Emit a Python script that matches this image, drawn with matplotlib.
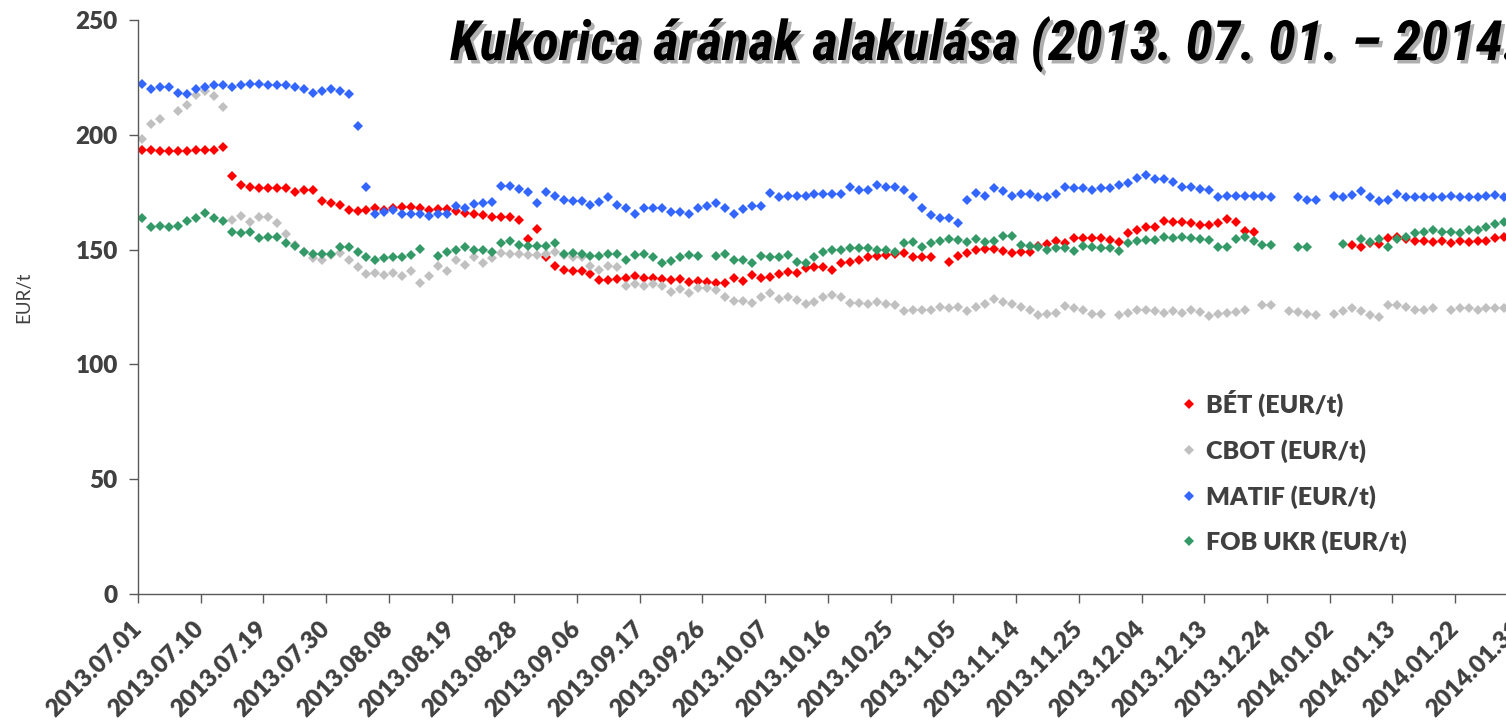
import numpy as np
import matplotlib
matplotlib.use("Agg")
import matplotlib.pyplot as plt
from matplotlib import font_manager
from matplotlib.lines import Line2D
import matplotlib.patheffects as pe

nan = np.nan

# weekday categories 2013.07.01 - 2014.01.31, one label every 7th day
n_cat = 155
tick_labels = ['2013.07.01', '2013.07.10', '2013.07.19', '2013.07.30', '2013.08.08',
               '2013.08.19', '2013.08.28', '2013.09.06', '2013.09.17', '2013.09.26',
               '2013.10.07', '2013.10.16', '2013.10.25', '2013.11.05', '2013.11.14',
               '2013.11.25', '2013.12.04', '2013.12.13', '2013.12.24', '2014.01.02',
               '2014.01.13', '2014.01.22', '2014.01.31']

bet = [193.3, 193.5, 193.1, 193.1, 193.1, 193.1, 193.3, 193.5, 193.5, 194.5,
       182.1, 178.1, 177.2, 176.7, 176.7, 176.7, 176.7, 175.2, 176.0, 176.0,
       171.3, 170.5, 169.5, 167.3, 166.6, 167.4, 168.0, 167.2, 168.0, 168.5,
       168.5, 168.0, 167.2, 167.5, 167.5, 167.0, 166.0, 165.5, 165.1, 164.4,
       164.1, 164.1, 163.0, 154.5, 158.9, 146.9, 142.8, 141.1, 140.8, 140.8,
       139.3, 136.7, 136.7, 137.0, 137.8, 138.4, 137.8, 137.8, 137.0, 136.7,
       137.0, 136.0, 136.4, 136.0, 135.6, 135.6, 137.5, 136.4, 139.0, 137.8,
       138.1, 139.3, 140.3, 139.9, 141.8, 142.5, 142.5, 141.3, 144.0, 144.7,
       145.4, 146.6, 147.0, 147.6, 148.3, 148.6, 146.9, 146.9, 146.6, nan,
       144.7, 147.2, 148.6, 149.8, 150.1, 150.1, 149.5, 148.6, 149.1, 149.1,
       151.6, 152.4, 153.7, 152.7, 154.9, 154.9, 154.9, 154.9, 154.2, 153.5,
       157.4, 158.6, 160.0, 159.7, 162.6, 162.2, 162.2, 161.4, 160.7, 160.7,
       161.4, 163.2, 162.2, 158.3, 157.8, nan, nan, nan, nan, nan,
       nan, nan, nan, nan, nan, 152.0, 151.0, 153.0, 152.4, 154.9,
       155.3, 154.5, 153.9, 153.9, 153.5, 153.9, 153.0, 153.9, 153.5, 153.9,
       153.9, 154.9, 155.3]

cbot = [198.0, 204.7, 206.7, nan, 210.5, 213.0, 217.3, 219.2, 216.9, 212.3,
        162.9, 164.6, 162.2, 164.3, 164.3, 161.7, 156.8, 152.0, 149.1, 146.2,
        145.5, 147.6, 148.7, 145.5, 142.6, 139.5, 139.7, 139.0, 140.0, 138.3,
        140.5, 135.6, 138.3, 142.8, 140.5, 145.4, 143.3, 146.9, 144.0, 146.2,
        148.5, 148.3, 148.3, 147.6, 147.6, 148.0, 149.0, 147.5, 146.9, 146.9,
        142.8, 141.1, 142.9, 142.6, 134.1, 135.0, 134.1, 135.0, 134.1, 131.6,
        132.7, 130.9, 133.1, 133.1, 132.4, 129.5, 127.7, 127.7, 126.8, 129.5,
        130.9, 128.7, 129.5, 127.9, 126.4, 127.2, 129.5, 130.2, 129.5, 126.8,
        126.8, 126.3, 127.2, 126.5, 125.8, 123.3, 123.9, 123.9, 123.9, 124.8,
        124.4, 124.8, 123.3, 124.8, 126.3, 128.7, 127.2, 126.3, 124.8, 123.9,
        121.4, 122.1, 122.4, 125.3, 124.4, 123.9, 122.1, 121.9, nan, 121.4,
        122.4, 123.9, 123.6, 123.3, 122.4, 123.3, 122.4, 123.9, 122.7, 120.9,
        121.9, 122.4, 122.7, 123.9, nan, 125.8, 125.8, nan, 123.3, 122.7,
        122.1, 121.4, nan, 122.1, 123.3, 124.4, 123.3, 121.4, 120.7, 125.8,
        125.8, 124.8, 123.9, 123.9, 124.4, nan, 123.9, 124.4, 124.4, 123.9,
        124.4, 124.6, 124.4]

matif = [222.1, 219.8, 221.0, 221.0, 218.3, 217.8, 220.1, 221.0, 221.7, 221.7,
         221.0, 221.7, 222.1, 222.1, 221.7, 221.7, 221.7, 221.0, 219.8, 218.3,
         219.2, 219.8, 219.2, 217.8, 203.8, 177.4, 165.5, 166.5, 167.3, 165.5,
         165.5, 165.5, 164.7, 165.5, 165.5, 169.0, 168.0, 169.8, 170.1, 170.8,
         177.7, 177.7, 176.2, 175.2, 170.4, 175.2, 173.3, 171.8, 171.3, 171.3,
         169.4, 170.6, 172.8, 169.4, 168.0, 165.5, 168.0, 168.0, 168.0, 166.5,
         166.5, 165.5, 168.0, 169.0, 170.1, 168.0, 165.5, 167.5, 169.0, 169.0,
         174.5, 172.8, 173.3, 173.3, 173.3, 174.2, 174.2, 174.2, 174.2, 177.4,
         176.0, 176.0, 178.1, 177.4, 177.4, 176.0, 172.8, 168.0, 165.1, 163.6,
         163.6, 161.8, 171.8, 174.5, 173.3, 176.7, 175.7, 173.3, 174.2, 174.2,
         172.8, 172.8, 174.2, 177.4, 176.7, 176.7, 176.0, 176.7, 176.7, 178.1,
         179.1, 181.4, 182.5, 180.6, 180.6, 179.6, 177.4, 177.4, 176.2, 176.0,
         172.8, 173.3, 173.3, 173.3, 173.3, 173.3, 172.8, nan, nan, 172.8,
         171.8, 171.8, nan, 173.3, 172.8, 173.8, 175.7, 172.8, 171.3, 171.8,
         174.2, 172.8, 172.8, 172.8, 172.8, 172.8, 173.3, 172.8, 172.8, 172.8,
         173.3, 173.8, 172.8]

fob = [163.6, 159.7, 160.3, 159.7, 160.3, 162.6, 163.6, 166.1, 163.6, 162.6,
       157.8, 157.1, 157.8, 154.9, 155.6, 155.6, 152.7, 151.6, 149.1, 148.1,
       148.1, 148.1, 151.3, 151.3, 149.1, 146.8, 145.4, 146.2, 146.6, 146.9,
       147.6, 150.1, nan, 147.2, 149.1, 149.8, 151.2, 149.8, 149.8, 149.1,
       152.7, 153.9, 152.0, 151.6, 151.6, 151.6, 152.7, 148.3, 148.6, 148.0,
       147.2, 147.2, 148.3, 148.0, 145.4, 147.6, 148.3, 146.9, 144.0, 145.1,
       146.9, 147.6, 147.2, nan, 147.2, 148.3, 145.4, 145.4, 144.0, 147.2,
       146.9, 146.9, 147.6, 144.7, 144.0, 146.6, 148.9, 149.8, 149.8, 150.5,
       150.5, 150.5, 149.8, 149.8, 149.1, 153.0, 153.5, 151.2, 152.7, 153.9,
       154.5, 154.2, 153.5, 154.5, 153.5, 153.9, 155.9, 155.9, 152.0, 151.6,
       151.0, 149.8, 150.5, 150.5, 149.5, 151.6, 151.0, 150.5, 150.5, 149.5,
       152.7, 153.9, 154.2, 154.2, 155.3, 154.9, 155.3, 154.9, 154.5, 154.2,
       151.2, 151.2, 154.5, 155.6, 153.9, 152.0, 152.0, nan, nan, 151.2,
       151.2, nan, nan, nan, 152.4, nan, 154.5, 153.5, 154.5, 151.2,
       154.5, 155.3, 157.1, 157.8, 158.6, 157.8, 157.8, 157.1, 158.6, 158.6,
       159.7, 161.1, 162.2]

series = [("BÉT (EUR/t)", bet, "#ff0000"),
          ("CBOT (EUR/t)", cbot, "#c0c0c0"),
          ("MATIF (EUR/t)", matif, "#3366ff"),
          ("FOB UKR (EUR/t)", fob, "#339966")]

names = {f.name for f in font_manager.fontManager.ttflist}
base_font = 'Lato' if 'Lato' in names else 'DejaVu Sans'
title_font = next((n for n in ['Liberation Sans Narrow', 'Roboto Condensed', 'Lato']
                   if n in names), 'DejaVu Sans')
plt.rcParams['font.family'] = [base_font, 'DejaVu Sans']
txt = '#404040'

W, H = 1506, 722
fig = plt.figure(figsize=(W / 100, H / 100), dpi=100)
ax = fig.add_axes([138 / W, 128 / H, n_cat * 8.96 / W, 574 / H])

for name, vals, col in series:
    ax.plot(np.arange(len(vals)), vals, ls='none', marker='D', ms=5.2,
            mew=0, color=col, label=name)

ax.set_xlim(-0.5, n_cat - 0.5)
ax.set_ylim(0, 250)
ax.set_yticks(np.arange(0, 251, 50))
ax.set_xticks(np.arange(0, n_cat, 7) - 0.5)
ax.set_xticklabels(tick_labels, rotation=45, ha='right', va='center',
                   rotation_mode='anchor')
for s in ['top', 'right']:
    ax.spines[s].set_visible(False)
for s in ['left', 'bottom']:
    ax.spines[s].set_color('#595959')
    ax.spines[s].set_linewidth(1.0)
ax.tick_params(axis='both', direction='out', length=6.5, width=1.0,
               color='#595959', labelcolor=txt, labelsize=17.5)
ax.tick_params(axis='y', pad=8)
ax.tick_params(axis='x', pad=16)
for lab in ax.get_xticklabels() + ax.get_yticklabels():
    lab.set_fontweight('heavy')

fig.text(24 / W, 1 - 297 / H, 'EUR/t', rotation=90, ha='center', va='center',
         fontsize=13.5, color=txt)

fig.text(450 / W, 1 - 60 / H, 'Kukorica árának alakulása (2013. 07. 01. – 2014. 01. 31.)',
         family=[title_font, 'DejaVu Sans'], fontsize=40, fontweight='bold',
         fontstyle='italic', color='black', ha='left', va='baseline',
         path_effects=[pe.withSimplePatchShadow(offset=(2.5, -2.5),
                                                shadow_rgbFace='#9a9a9a', alpha=0.8)])

handles = [Line2D([], [], ls='none', marker='D', ms=5.2, mew=0, color=c)
           for _, _, c in series]
fig.legend(handles, [s[0] for s in series], loc='upper left',
           bbox_to_anchor=(1179 / W, 1 - 390 / H), bbox_transform=fig.transFigure,
           frameon=False, borderpad=0, borderaxespad=0, handlelength=0.8,
           handletextpad=0.3, labelspacing=0.88,
           prop={'size': 18, 'weight': 'heavy'}, labelcolor=txt)

fig.savefig('out.png', dpi=100)
